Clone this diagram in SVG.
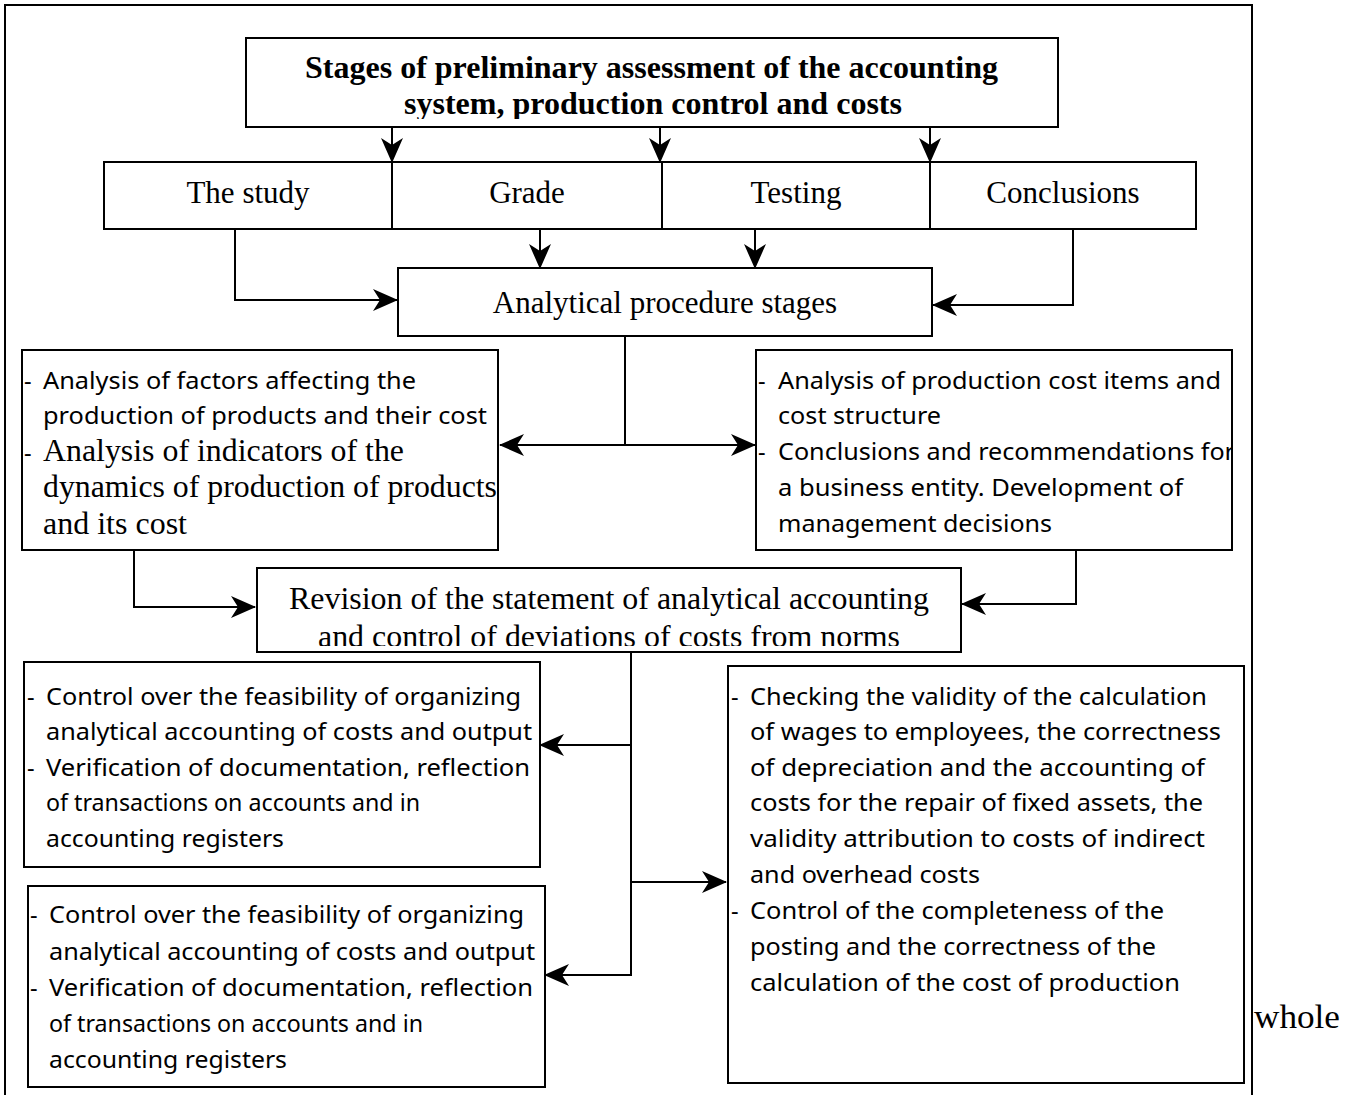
<svg xmlns="http://www.w3.org/2000/svg" width="1359" height="1095" viewBox="0 0 1359 1095">
<style>
.box{fill:#fff;stroke:#000;stroke-width:2}
.con{fill:none;stroke:#000;stroke-width:2}
.tr{font-family:"Liberation Serif","Times New Roman",serif;fill:#000}
.sa{font-family:"Noto Sans","Liberation Sans",sans-serif;fill:#000;font-size:23.5px}
.t28{font-size:31px}
.tb{font-size:31px;font-weight:bold}
</style>
<defs>
<marker id="ah" markerUnits="userSpaceOnUse" markerWidth="25" markerHeight="22" refX="24" refY="11" orient="auto">
<path d="M0,0 L25,11 L0,22 L7,11 z" fill="#000"/>
</marker>
<marker id="ahs" markerUnits="userSpaceOnUse" markerWidth="25" markerHeight="22" refX="1" refY="11" orient="auto">
<path d="M25,0 L0,11 L25,22 L18,11 z" fill="#000"/>
</marker>
<clipPath id="cTitle"><rect x="246" y="38" width="812" height="81"/></clipPath>
<clipPath id="cRev"><rect x="257" y="568" width="704" height="78"/></clipPath>
<clipPath id="cRB"><rect x="700" y="350" width="533" height="200"/></clipPath>
</defs>
<rect x="5" y="5" width="1247" height="1100" fill="none" stroke="#000" stroke-width="2"/>

<g id="title">
<rect class="box" x="246" y="38" width="812" height="89"/>
<g clip-path="url(#cTitle)">
<text class="tr tb" x="305" y="78" textLength="693" lengthAdjust="spacingAndGlyphs">Stages of preliminary assessment of the accounting</text>
<text class="tr tb" x="404" y="114" textLength="498" lengthAdjust="spacingAndGlyphs">system, production control and costs</text>
</g>
</g>

<g id="study"><rect class="box" x="104" y="162" width="288" height="67"/><text class="tr t28" x="248" y="203" text-anchor="middle">The study</text></g>
<g id="grade"><rect class="box" x="392" y="162" width="270" height="67"/><text class="tr t28" x="527" y="203" text-anchor="middle">Grade</text></g>
<g id="testing"><rect class="box" x="662" y="162" width="268" height="67"/><text class="tr t28" x="796" y="203" text-anchor="middle">Testing</text></g>
<g id="conclusions"><rect class="box" x="930" y="162" width="266" height="67"/><text class="tr t28" x="1063" y="203" text-anchor="middle">Conclusions</text></g>

<g id="analytical"><rect class="box" x="398" y="268" width="534" height="68"/><text class="tr t28" x="665" y="313" text-anchor="middle">Analytical procedure stages</text></g>

<g id="leftAnalysis">
<rect class="box" x="22" y="350" width="476" height="200"/>
<text class="sa" x="24" y="389">-</text><text class="sa" x="43" y="389" textLength="373" lengthAdjust="spacingAndGlyphs">Analysis of factors affecting the</text>
<text class="sa" x="43" y="424" textLength="444" lengthAdjust="spacingAndGlyphs">production of products and their cost</text>
<text class="sa" x="24" y="461">-</text><text class="tr t28" x="43" y="461" textLength="361" lengthAdjust="spacingAndGlyphs">Analysis of indicators of the</text>
<text class="tr t28" x="43" y="497" textLength="454" lengthAdjust="spacingAndGlyphs">dynamics of production of products</text>
<text class="tr t28" x="43" y="534" textLength="144" lengthAdjust="spacingAndGlyphs">and its cost</text>
</g>

<g id="rightAnalysis">
<rect class="box" x="756" y="350" width="476" height="200"/>
<g clip-path="url(#cRB)">
<text class="sa" x="758" y="389">-</text><text class="sa" x="778" y="389" textLength="443" lengthAdjust="spacingAndGlyphs">Analysis of production cost items and</text>
<text class="sa" x="778" y="424" textLength="163" lengthAdjust="spacingAndGlyphs">cost structure</text>
<text class="sa" x="758" y="460">-</text><text class="sa" x="778" y="460" textLength="457" lengthAdjust="spacingAndGlyphs">Conclusions and recommendations for</text>
<text class="sa" x="778" y="496" textLength="405" lengthAdjust="spacingAndGlyphs">a business entity. Development of</text>
<text class="sa" x="778" y="532" textLength="274" lengthAdjust="spacingAndGlyphs">management decisions</text>
</g>
</g>

<g id="revision">
<rect class="box" x="257" y="568" width="704" height="84"/>
<g clip-path="url(#cRev)">
<text class="tr t28" x="289" y="609" textLength="640" lengthAdjust="spacingAndGlyphs">Revision of the statement of analytical accounting</text>
<text class="tr t28" x="318" y="647" textLength="582" lengthAdjust="spacingAndGlyphs">and control of deviations of costs from norms</text>
</g>
</g>

<g id="control1">
<rect class="box" x="24" y="662" width="516" height="205"/>
<text class="sa" x="27" y="705">-</text><text class="sa" x="46" y="705" textLength="475" lengthAdjust="spacingAndGlyphs">Control over the feasibility of organizing</text>
<text class="sa" x="46" y="740" textLength="486" lengthAdjust="spacingAndGlyphs">analytical accounting of costs and output</text>
<text class="sa" x="27" y="776">-</text><text class="sa" x="46" y="776" textLength="484" lengthAdjust="spacingAndGlyphs">Verification of documentation, reflection</text>
<text class="sa" x="46" y="811" textLength="374" lengthAdjust="spacingAndGlyphs">of transactions on accounts and in</text>
<text class="sa" x="46" y="847" textLength="238" lengthAdjust="spacingAndGlyphs">accounting registers</text>
</g>

<g id="control2">
<rect class="box" x="28" y="886" width="517" height="201"/>
<text class="sa" x="30" y="923">-</text><text class="sa" x="49" y="923" textLength="475" lengthAdjust="spacingAndGlyphs">Control over the feasibility of organizing</text>
<text class="sa" x="49" y="960" textLength="486" lengthAdjust="spacingAndGlyphs">analytical accounting of costs and output</text>
<text class="sa" x="30" y="996">-</text><text class="sa" x="49" y="996" textLength="484" lengthAdjust="spacingAndGlyphs">Verification of documentation, reflection</text>
<text class="sa" x="49" y="1032" textLength="374" lengthAdjust="spacingAndGlyphs">of transactions on accounts and in</text>
<text class="sa" x="49" y="1068" textLength="238" lengthAdjust="spacingAndGlyphs">accounting registers</text>
</g>

<g id="checking">
<rect class="box" x="728" y="666" width="516" height="417"/>
<text class="sa" x="731" y="705">-</text><text class="sa" x="750" y="705" textLength="457" lengthAdjust="spacingAndGlyphs">Checking the validity of the calculation</text>
<text class="sa" x="750" y="740" textLength="471" lengthAdjust="spacingAndGlyphs">of wages to employees, the correctness</text>
<text class="sa" x="750" y="776" textLength="455" lengthAdjust="spacingAndGlyphs">of depreciation and the accounting of</text>
<text class="sa" x="750" y="811" textLength="453" lengthAdjust="spacingAndGlyphs">costs for the repair of fixed assets, the</text>
<text class="sa" x="750" y="847" textLength="455" lengthAdjust="spacingAndGlyphs">validity attribution to costs of indirect</text>
<text class="sa" x="750" y="883" textLength="230" lengthAdjust="spacingAndGlyphs">and overhead costs</text>
<text class="sa" x="731" y="919">-</text><text class="sa" x="750" y="919" textLength="414" lengthAdjust="spacingAndGlyphs">Control of the completeness of the</text>
<text class="sa" x="750" y="955" textLength="406" lengthAdjust="spacingAndGlyphs">posting and the correctness of the</text>
<text class="sa" x="750" y="991" textLength="430" lengthAdjust="spacingAndGlyphs">calculation of the cost of production</text>
</g>

<text class="tr" x="1254" y="1028" font-size="33" textLength="86" lengthAdjust="spacingAndGlyphs">whole</text>

<g id="connectors">
<path class="con" d="M392,127 V162" marker-end="url(#ah)"/>
<path class="con" d="M660,127 V162" marker-end="url(#ah)"/>
<path class="con" d="M930,127 V162" marker-end="url(#ah)"/>
<path class="con" d="M540,229 V268" marker-end="url(#ah)"/>
<path class="con" d="M755,229 V268" marker-end="url(#ah)"/>
<path class="con" d="M235,229 V300 H397" marker-end="url(#ah)"/>
<path class="con" d="M1073,229 V305 H933" marker-end="url(#ah)"/>
<path class="con" d="M625,336 V445"/>
<path class="con" d="M500,445 H755" marker-start="url(#ahs)" marker-end="url(#ah)"/>
<path class="con" d="M134,550 V607 H255" marker-end="url(#ah)"/>
<path class="con" d="M1076,550 V604 H962" marker-end="url(#ah)"/>
<path class="con" d="M631,652 V976"/>
<path class="con" d="M631,745 H540" marker-end="url(#ah)"/>
<path class="con" d="M631,882 H726" marker-end="url(#ah)"/>
<path class="con" d="M631,975 H545" marker-end="url(#ah)"/>
</g>
</svg>
